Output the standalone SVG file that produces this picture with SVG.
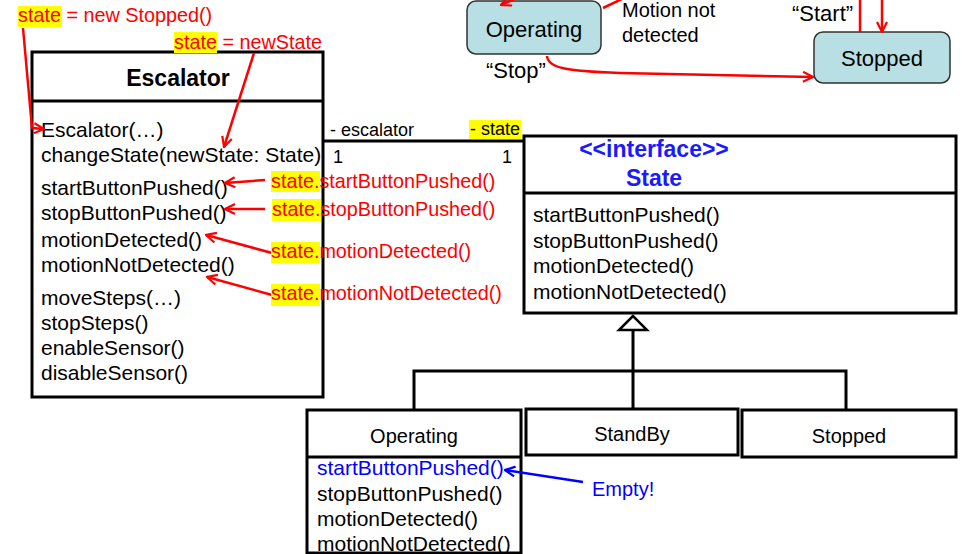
<svg xmlns="http://www.w3.org/2000/svg" width="962" height="554" viewBox="0 0 962 554">
<style>
text{font-family:"Liberation Sans",Arial,sans-serif;fill:#000}
.m{font-size:21px}
.sm{font-size:18px}
.hd{font-size:20px}
.t{font-size:23px;font-weight:bold}
.b{font-size:23px;font-weight:bold;fill:#1a1aff}
.r{font-size:19.8px;fill:#ff0000}
.bl{fill:#0000ff}
.box{fill:#fff;stroke:#000;stroke-width:3}
.hl{fill:#ffff00}
.st{fill:#b8dfe3;stroke:#333;stroke-width:1.5}
.sd{font-size:22px}
.ra{fill:none;stroke:#ff0000;stroke-width:2.5}
.ln{fill:none;stroke:#000;stroke-width:3}
</style>
<defs>
<marker id="ar" viewBox="0 0 12 12" refX="11" refY="6" markerWidth="12" markerHeight="12" markerUnits="userSpaceOnUse" orient="auto">
<path d="M1,1 L11,6 L1,11" fill="none" stroke="#ff0000" stroke-width="2.2"/>
</marker>
<marker id="ab" viewBox="0 0 12 12" refX="11" refY="6" markerWidth="12" markerHeight="12" markerUnits="userSpaceOnUse" orient="auto">
<path d="M1,1 L11,6 L1,11" fill="none" stroke="#0000ff" stroke-width="2.2"/>
</marker>
</defs>
<rect width="962" height="554" fill="#fff"/>

<g id="sm-operating">
<rect class="st" x="467" y="1" width="134" height="53" rx="9"/>
<text class="sd" x="534" y="37" text-anchor="middle">Operating</text>
</g>
<g id="sm-stopped">
<rect class="st" x="814" y="32" width="136" height="51" rx="9"/>
<text class="sd" x="882" y="66" text-anchor="middle">Stopped</text>
</g>
<g id="sm-labels">
<text class="hd" x="622" y="17">Motion not</text>
<text class="hd" x="622" y="42">detected</text>
<text class="sd" x="792" y="21">“Start”</text>
<text class="sd" x="486" y="78">“Stop”</text>
</g>

<g id="escalator">
<rect class="box" x="32" y="52" width="291" height="345"/>
<line class="ln" x1="32" y1="101" x2="323" y2="101"/>
<text class="t" x="178" y="86" text-anchor="middle">Escalator</text>
<text class="m" x="41" y="137">Escalator(…)</text>
<text class="m" x="41" y="162">changeState(newState: State)</text>
<text class="m" x="41" y="195">startButtonPushed()</text>
<text class="m" x="41" y="220">stopButtonPushed()</text>
<text class="m" x="41" y="247">motionDetected()</text>
<text class="m" x="41" y="272">motionNotDetected()</text>
<text class="m" x="41" y="305">moveSteps(…)</text>
<text class="m" x="41" y="330">stopSteps()</text>
<text class="m" x="41" y="355">enableSensor()</text>
<text class="m" x="41" y="380">disableSensor()</text>
</g>

<g id="state-interface">
<rect class="box" x="524" y="136" width="432" height="177"/>
<line class="ln" x1="524" y1="193" x2="956" y2="193"/>
<text class="b" x="654" y="157" text-anchor="middle">&lt;&lt;interface&gt;&gt;</text>
<text class="b" x="654" y="186" text-anchor="middle">State</text>
<text class="m" x="533" y="222">startButtonPushed()</text>
<text class="m" x="533" y="248">stopButtonPushed()</text>
<text class="m" x="533" y="273">motionDetected()</text>
<text class="m" x="533" y="299">motionNotDetected()</text>
</g>

<g id="operating-class">
<rect class="box" x="307" y="410" width="214" height="143"/>
<line class="ln" x1="307" y1="457" x2="521" y2="457"/>
<text class="hd" x="414" y="443" text-anchor="middle">Operating</text>
<text class="m bl" x="317" y="475">startButtonPushed()</text>
<text class="m" x="317" y="501">stopButtonPushed()</text>
<text class="m" x="317" y="526">motionDetected()</text>
<text class="m" x="317" y="551">motionNotDetected()</text>
</g>
<g id="standby-class">
<rect class="box" x="526" y="409" width="212" height="46"/>
<text class="hd" x="632" y="441" text-anchor="middle">StandBy</text>
</g>
<g id="stopped-class">
<rect class="box" x="742" y="410" width="214" height="47"/>
<text class="hd" x="849" y="443" text-anchor="middle">Stopped</text>
</g>

<g id="connectors">
<line class="ln" x1="323" y1="141" x2="524" y2="141"/>
<rect class="hl" x="469" y="120" width="52" height="19"/>
<text class="sm" x="330" y="136">- escalator</text>
<text class="sm" x="470" y="135">- state</text>
<text class="sm" x="333" y="163">1</text>
<text class="sm" x="502" y="163">1</text>
<polyline class="ln" points="414,410 414,371 846,371 846,410"/>
<line class="ln" x1="633" y1="329" x2="633" y2="409"/>
<polygon points="633,316 619,330 647,330" fill="#fff" stroke="#000" stroke-width="2.5"/>
<path class="ra" d="M547,56 C548,68 565,71 620,73 L813,77" marker-end="url(#ar)"/>
<line class="ra" x1="528" y1="-7" x2="501" y2="5" marker-end="url(#ar)"/>
<line class="ra" x1="603" y1="8" x2="624" y2="-2"/>
<line class="ra" x1="860" y1="0" x2="860" y2="32"/>
<line class="ra" x1="882" y1="0" x2="882" y2="32" marker-end="url(#ar)"/>
<polyline class="ra" points="23,28 32,128 44,129" marker-end="url(#ar)"/>
<line class="ra" x1="254" y1="53" x2="224" y2="147" marker-end="url(#ar)"/>
<line class="ra" x1="265" y1="180" x2="225" y2="183" marker-end="url(#ar)"/>
<line class="ra" x1="265" y1="209" x2="225" y2="209" marker-end="url(#ar)"/>
<line class="ra" x1="272" y1="253" x2="206" y2="235" marker-end="url(#ar)"/>
<line class="ra" x1="272" y1="295" x2="207" y2="277" marker-end="url(#ar)"/>
<line x1="583" y1="482" x2="505" y2="470" stroke="#0000ff" stroke-width="2.5" marker-end="url(#ab)"/>
</g>

<g id="annotations">
<rect class="hl" x="18" y="6" width="44" height="21"/>
<text class="r" x="18" y="22">state = new Stopped()</text>
<rect class="hl" x="174" y="32" width="43" height="21"/>
<text class="r" x="174" y="49">state = newState</text>
<rect class="hl" x="271" y="171" width="49" height="21"/>
<text class="r" x="271" y="188">state.startButtonPushed()</text>
<rect class="hl" x="272" y="199" width="49" height="22"/>
<text class="r" x="272" y="216">state.stopButtonPushed()</text>
<rect class="hl" x="271" y="242" width="49" height="21"/>
<text class="r" x="271" y="258">state.motionDetected()</text>
<rect class="hl" x="271" y="284" width="49" height="22"/>
<text class="r" x="271" y="300">state.motionNotDetected()</text>
<text class="hd bl" x="592" y="496">Empty!</text>
</g>
</svg>
